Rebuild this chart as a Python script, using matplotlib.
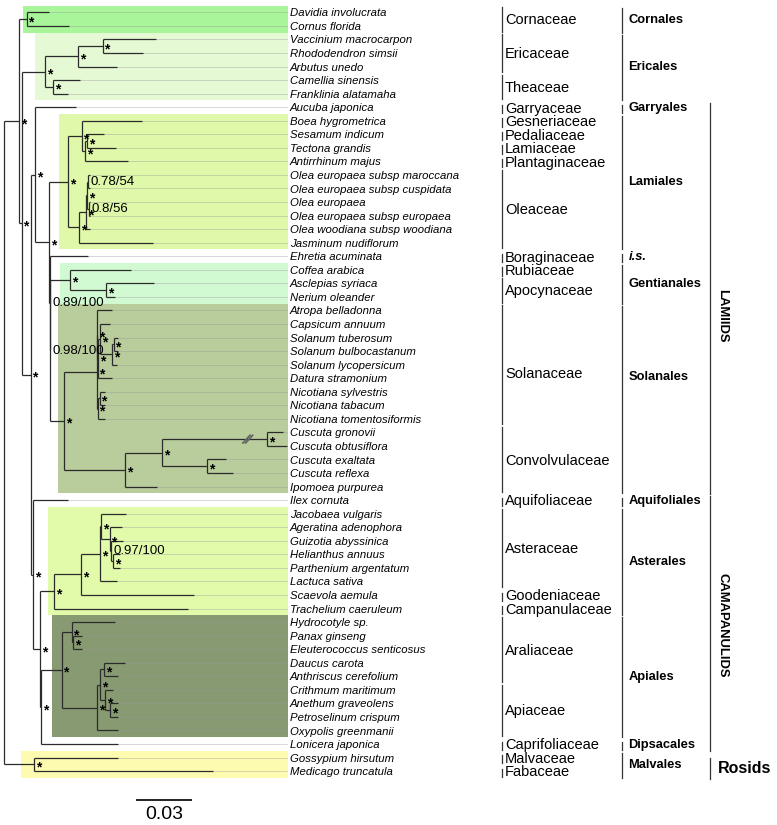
import re
import matplotlib
matplotlib.use('Agg')
import matplotlib.pyplot as plt
from matplotlib.transforms import blended_transform_factory

# ---------------- tree (branch lengths in substitutions/site) ----------------
cornales = "(Davidia_involucrata:0.0126,Cornus_florida:0.0237)*:0.0043"
ericales = ("(((Vaccinium_macrocarpon:0.0296,Rhododendron_simsii:0.0222)*:0.0136,"
            "Arbutus_unedo:0.0217)*:0.0185,"
            "(Camellia_sinensis:0.0152,Franklinia_alatamaha:0.0083)*:0.0046)*:0.0129")
lamiales = ("((Boea_hygrometrica:0.0333,((Sesamum_indicum:0.0093,Tectona_grandis:0.0163)*:0.0013,"
            "Antirrhinum_majus:0.0241)*:0.0018)*:0.0074,"
            "((((Olea_europaea_subsp_maroccana:0.0008,Olea_europaea_subsp_cuspidata:0.0008)0.78/54:0.0006,"
            "(Olea_europaea:0.0006,Olea_europaea_subsp_europaea:0.0006)0.8/56:0.0008)*:0.0008,"
            "Olea_woodiana_subsp_woodiana:0.0022)*:0.0037,Jasminum_nudiflorum:0.0408)*:0.0061)*:0.0107")
gentianales = "(Coffea_arabica:0.0337,(Asclepias_syriaca:0.0267,Nerium_oleander:0.0050)*:0.0200)*:0.0111"
solanaceae = ("((Atropa_belladonna:0.0082,((Capsicum_annuum:0.0058,"
              "((Solanum_tuberosum:0.0026,Solanum_bulbocastanum:0.0023)*:0.0009,"
              "Solanum_lycopersicum:0.0029)*:0.0068)*:0.0008,Datura_stramonium:0.0076)*:0.0006)*:0.0002,"
              "((Nicotiana_sylvestris:0.0031,Nicotiana_tabacum:0.0031)*:0.0011,"
              "Nicotiana_tomentosiformis:0.0042)*:0.0004)*:0.0182")
convolvulaceae = ("(((Cuscuta_gronovii:0.0089,Cuscuta_obtusiflora:0.0114)*:0.0583,"
                  "(Cuscuta_exaltata:0.0107,Cuscuta_reflexa:0.0148)*:0.0250)*:0.0204,"
                  "Ipomoea_purpurea:0.0176)*:0.0339")
asterales = ("((((Jacobaea_vulgaris:0.0139,(Ageratina_adenophora:0.0071,(Guizotia_abyssinica:0.0067,"
             "(Helianthus_annuus:0.0041,Parthenium_argentatum:0.0041)*:0.0013)0.97/100:0.0006)*:0.0046)*:0.0009,"
             "Lactuca_sativa:0.0096)*:0.0102,Scaevola_aemula:0.0624)*:0.0152,"
             "Trachelium_caeruleum:0.0744)*:0.0079")
apiales = ("((Hydrocotyle_sp.:0.0241,(Panax_ginseng:0.0050,Eleuterococcus_senticosus:0.0050)*:0.0006)*:0.0056,"
           "(((Daucus_carota:0.0117,Anthriscus_cerefolium:0.0079)*:0.0022,"
           "(Crithmum_maritimum:0.0043,(Anethum_graveolens:0.0046,Petroselinum_crispum:0.0044)*:0.0028)*:0.0028)*:0.0015,"
           "Oxypolis_greenmanii:0.0117)*:0.0198)*:0.0115")
rosids = "(Gossypium_hirsutum:0.0467,Medicago_truncatula:0.0994)*:0.0167"

solanales = "(" + solanaceae + "," + convolvulaceae + ")*:0.0078"
lamiids = ("(Aucuba_japonica:0.0228,(" + lamiales + ",(Ehretia_acuminata:0.0216,("
           + gentianales + "," + solanales + ")0.98/100:0.0003)0.89/100:0.0003)*:0.0078)*:0.0024")
campanulids = ("(Ilex_cornuta:0.0194,(" + asterales + ",(" + apiales
               + ",Lonicera_japonica:0.0429)*:0.0006)*:0.0037)*:0.0014")
newick = ("((" + cornales + ",(" + ericales + ",(" + lamiids + "," + campanulids
          + ")*:0.0050)*:0.0015)*:0.0083," + rosids + ");")

# ---------------- side annotations ----------------
families = ['Cornaceae', 'Ericaceae', 'Theaceae', 'Garryaceae', 'Gesneriaceae', 'Pedaliaceae',
            'Lamiaceae', 'Plantaginaceae', 'Oleaceae', 'Boraginaceae', 'Rubiaceae', 'Apocynaceae',
            'Solanaceae', 'Convolvulaceae', 'Aquifoliaceae', 'Asteraceae', 'Goodeniaceae',
            'Campanulaceae', 'Araliaceae', 'Apiaceae', 'Caprifoliaceae', 'Malvaceae', 'Fabaceae']
family_sizes = [2, 3, 2, 1, 1, 1, 1, 1, 6, 1, 1, 2, 9, 5, 1, 6, 1, 1, 5, 4, 1, 1, 1]
orders = ['Cornales', 'Ericales', 'Garryales', 'Lamiales', 'i.s.', 'Gentianales', 'Solanales',
          'Aquifoliales', 'Asterales', 'Apiales', 'Dipsacales', 'Malvales']
order_sizes = [2, 5, 1, 10, 1, 3, 14, 1, 8, 9, 1, 2]
groups = ['LAMIIDS', 'CAMAPANULIDS', 'Rosids']
group_first = [7, 36, 55]
group_sizes = [29, 19, 2]

# highlighted clades: first leaf, last leaf
highlights = [('Davidia involucrata', 'Cornus florida'),
              ('Vaccinium macrocarpon', 'Franklinia alatamaha'),
              ('Boea hygrometrica', 'Jasminum nudiflorum'),
              ('Coffea arabica', 'Nerium oleander'),
              ('Atropa belladonna', 'Ipomoea purpurea'),
              ('Jacobaea vulgaris', 'Trachelium caeruleum'),
              ('Hydrocotyle sp.', 'Oxypolis greenmanii'),
              ('Gossypium hirsutum', 'Medicago truncatula')]
hl_colors = ['#a8f59a', '#e5f9d5', '#dff8a9', '#d2fad2', '#b9cc9c', '#e2fbab', '#889a72', '#fdfbb0']
hl_left_px = [23, 35, 59, 60, 58, 48, 52, 21]


# ---------------- parse newick ----------------
def parse(s):
    pos = 0

    def node():
        nonlocal pos
        n = {'children': [], 'name': '', 'bl': 0.0}
        if s[pos] == '(':
            pos += 1
            n['children'].append(node())
            while s[pos] == ',':
                pos += 1
                n['children'].append(node())
            pos += 1
        m = re.match(r'[^:,();]*', s[pos:])
        n['name'] = m.group(0).replace('_', ' ')
        pos += len(m.group(0))
        if pos < len(s) and s[pos] == ':':
            m = re.match(r':([0-9.]+)', s[pos:])
            n['bl'] = float(m.group(1))
            pos += len(m.group(0))
        return n
    return node()


root = parse(newick)
leaves = []


def layout(n, x0):
    n['x'] = x0 + n['bl']
    for c in n['children']:
        layout(c, n['x'])
    if n['children']:
        n['y'] = (n['children'][0]['y'] + n['children'][-1]['y']) / 2
    else:
        n['y'] = len(leaves)
        leaves.append(n)


layout(root, 0.0)

# ---------------- figure ----------------
W, H = 777, 825
U = 0.03 / 54          # substitutions per pixel
Y0, DY = 12.3, 13.55   # first leaf row and row spacing in pixels
plt.rcParams['font.family'] = ['Liberation Sans', 'DejaVu Sans']

fig = plt.figure(figsize=(W / 100, H / 100), dpi=100)
ax = fig.add_axes([0, 0, 1, 1])
ax.set_xlim(-4 * U, (W - 4) * U)
ax.set_ylim((H - Y0) / DY, -Y0 / DY)
ax.axis('off')
tr = blended_transform_factory(ax.transAxes, ax.transData)


def px(p):
    return p / W


LABEL_X = (287 - 4) * U
TEXT_X = (290 - 4) * U
idx = {l['name']: i for i, l in enumerate(leaves)}

# clade boxes
for (a, b), col, lp in zip(highlights, hl_colors, hl_left_px):
    i0, i1 = idx[a], idx[b]
    ax.fill_between([(lp - 4) * U, LABEL_X + 1 * U], i0 - 0.5, i1 + 0.5, color=col, lw=0, zorder=0)

cusc = None


# tree branches
def draw(n, parent_x):
    global cusc
    ax.plot([parent_x, n['x']], [n['y'], n['y']], color='#2b2b2b', lw=0.9, zorder=2,
            solid_capstyle='butt')
    if n['children']:
        ax.plot([n['x'], n['x']], [n['children'][0]['y'], n['children'][-1]['y']],
                color='#2b2b2b', lw=0.9, zorder=2, solid_capstyle='butt')
        if n['name'] == '*':
            ax.text(n['x'] + 1.8 * U, n['y'] + 0.52, '*', fontsize=10, fontweight='bold',
                    va='baseline', ha='left', zorder=3)
        elif n['name']:
            ax.text(n['x'] + 2.5 * U, n['y'] + 0.02, n['name'], fontsize=9.5, va='center', ha='left', zorder=3)
        if n['children'][0]['name'] == 'Cuscuta gronovii':
            cusc = n
        for c in n['children']:
            draw(c, n['x'])
    else:
        ax.plot([n['x'], LABEL_X], [n['y'], n['y']], color='#999999', lw=0.6, alpha=0.45, zorder=1)
        ax.text(TEXT_X, n['y'] + 0.08, n['name'], fontsize=8.2, style='italic', va='center', ha='left')


draw(root, 0.0)

# break mark on the long Cuscuta branch
bx, by = cusc['x'] - 19 * U, cusc['y']
for d in (-1.3 * U, 1.3 * U):
    ax.plot([bx + d - 3.5 * U, bx + d + 3.5 * U], [by + 0.28, by - 0.28], color='#666666', lw=1.3, zorder=3)

# families
start = 0
for name, size in zip(families, family_sizes):
    i0, i1 = start, start + size - 1
    if size == 1:
        ax.plot([px(501.7)] * 2, [i0 - 0.18, i0 + 0.43], transform=tr, color='#333333', lw=0.9)
    else:
        ax.plot([px(501.7)] * 2, [i0 - 0.38, i1 + 0.42], transform=tr, color='#333333', lw=0.9)
    yc = (i0 + i1) / 2 + 0.1
    if name == 'Solanaceae':
        yc += 0.6
    ax.text(px(505), yc, name, transform=tr, fontsize=10.5, va='center', ha='left')
    start += size

# orders
start = 0
for name, size in zip(orders, order_sizes):
    i0, i1 = start, start + size - 1
    if size == 1:
        ax.plot([px(621.7)] * 2, [i0 - 0.18, i0 + 0.43], transform=tr, color='#333333', lw=0.9)
    else:
        ax.plot([px(621.7)] * 2, [i0 - 0.35, i1 + 0.5], transform=tr, color='#333333', lw=0.9)
    yc = (i0 + i1) / 2 + 0.05
    if name == 'Solanales':
        yc -= 1.6
    ax.text(px(628.3), yc, name, transform=tr, fontsize=9.3, fontweight='bold',
            style='italic' if name == 'i.s.' else 'normal', va='center', ha='left')
    start += size

# major groups
for name, i0, size in zip(groups, group_first, group_sizes):
    i1 = i0 + size - 1
    lo = i0 - 0.3 if name != 'Rosids' else i0 + 0.05
    ax.plot([px(710)] * 2, [lo, i1 + 0.55], transform=tr, color='#333333', lw=0.9)
    if name == 'Rosids':
        ax.text(px(718), (i0 + i1) / 2 + 0.3, name, transform=tr, fontsize=11.5,
                fontweight='bold', va='center', ha='left')
    else:
        yc = (i0 + i1) / 2 + (1.4 if name == 'LAMIIDS' else 0.2)
        ax.text(px(722.5), yc, name, transform=tr, fontsize=9.4, fontweight='bold',
                rotation=-90, va='center', ha='center')

# scale bar
sb_y = (800 - Y0) / DY
ax.plot([(137.3 - 4) * U, (137.3 - 4) * U + 0.03], [sb_y, sb_y], color='#222222', lw=1.4)
ax.text((137.3 - 4) * U + 0.015, sb_y + 0.45, '0.03', fontsize=14, ha='center', va='top')

fig.savefig('out.png', dpi=100)
